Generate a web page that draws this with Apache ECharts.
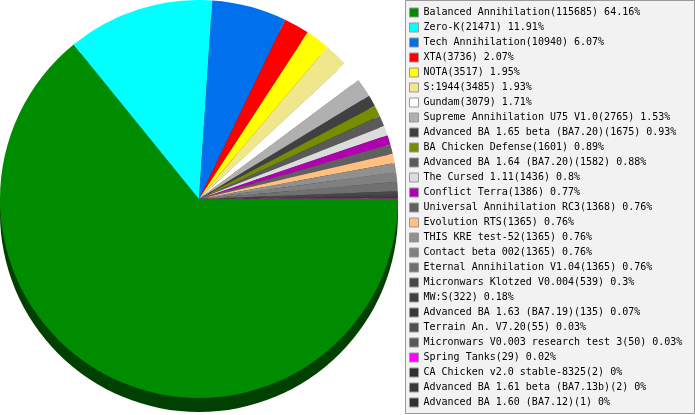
<!DOCTYPE html>
<html>
<head>
<meta charset="utf-8">
<script src="https://cdn.jsdelivr.net/npm/echarts@6/dist/echarts.min.js"></script>
<style>
html,body{margin:0;padding:0;background:#fff;}
#chart{width:695px;height:415px;}
</style>
</head>
<body>
<div id="chart"></div>
<script>
const names = [
  'Balanced Annihilation', 'Zero-K', 'Tech Annihilation', 'XTA', 'NOTA', 'S:1944', 'Gundam',
  'Supreme Annihilation U75 V1.0', 'Advanced BA 1.65 beta (BA7.20)', 'BA Chicken Defense',
  'Advanced BA 1.64 (BA7.20)', 'The Cursed 1.11', 'Conflict Terra', 'Universal Annihilation RC3',
  'Evolution RTS', 'THIS KRE test-52', 'Contact beta 002', 'Eternal Annihilation V1.04',
  'Micronwars Klotzed V0.004', 'MW:S', 'Advanced BA 1.63 (BA7.19)', 'Terrain An. V7.20',
  'Micronwars V0.003 research test 3', 'Spring Tanks', 'CA Chicken v2.0 stable-8325',
  'Advanced BA 1.61 beta (BA7.13b)', 'Advanced BA 1.60 (BA7.12)'
];
const values = [
  115685, 21471, 10940, 3736, 3517, 3485, 3079,
  2765, 1675, 1601,
  1582, 1436, 1386, 1368,
  1365, 1365, 1365, 1365,
  539, 322, 135, 55,
  50, 29, 2,
  2, 1
];
const colors = [
  '#008c00', '#00ffff', '#0070ec', '#ff0000', '#ffff00', '#f0e68c', '#ffffff',
  '#b0b0b0', '#404040', '#788c00',
  '#5a5a5a', '#dcdcdc', '#b000b0', '#606060',
  '#ffc080', '#909090', '#808080', '#707070',
  '#484848', '#404040', '#383838', '#505050',
  '#585858', '#ff00ff', '#303030',
  '#383838', '#303030'
];

const total = values.reduce((a, b) => a + b, 0);
function pct(v) { return parseFloat((v / total * 100).toFixed(2)); }
function darken(hex, f) {
  const n = parseInt(hex.slice(1), 16);
  const r = Math.round(((n >> 16) & 255) * f), g = Math.round(((n >> 8) & 255) * f), b = Math.round((n & 255) * f);
  return 'rgb(' + r + ',' + g + ',' + b + ')';
}

const mainData = names.map((n, i) => ({ name: n, value: values[i], itemStyle: { color: colors[i] } }));
const shadowData = names.map((n, i) => ({ name: '_shadow_' + i, value: values[i], itemStyle: { color: darken(colors[i], 0.46) } }));

const chart = echarts.init(document.getElementById('chart'), null, { renderer: 'canvas' });
chart.setOption({
  animation: false,
  backgroundColor: '#ffffff',
  graphic: [{
    type: 'rect', z: 0,
    shape: { x: 405.5, y: 0.5, width: 289, height: 413 },
    style: { fill: '#f2f2f2', stroke: '#999999', lineWidth: 1 }
  }],
  legend: {
    type: 'plain',
    orient: 'vertical',
    left: 409, top: 5,
    padding: 0,
    itemWidth: 9, itemHeight: 9, itemGap: 0,
    icon: 'rect',
    selectedMode: false,
    data: names,
    itemStyle: { borderColor: '#999999', borderWidth: 1 },
    textStyle: { fontFamily: 'DejaVu Sans Mono', fontSize: 10, color: '#000', lineHeight: 15 },
    formatter: function (name) {
      const i = names.indexOf(name);
      return name + '(' + values[i] + ') ' + pct(values[i]) + '%';
    }
  },
  series: [
    {
      type: 'pie', name: 'main', z: 3,
      center: [199, 199], radius: 199,
      startAngle: 0, clockwise: true,
      label: { show: false }, labelLine: { show: false },
      emphasis: { disabled: true },
      silent: true,
      itemStyle: { borderWidth: 0 },
      data: mainData
    },
    {
      type: 'pie', name: 'shadow', z: 2,
      center: [199, 213], radius: 199,
      startAngle: 0, clockwise: true,
      label: { show: false }, labelLine: { show: false },
      emphasis: { disabled: true },
      silent: true,
      itemStyle: { borderWidth: 0 },
      data: shadowData
    }
  ]
});
</script>
</body>
</html>
